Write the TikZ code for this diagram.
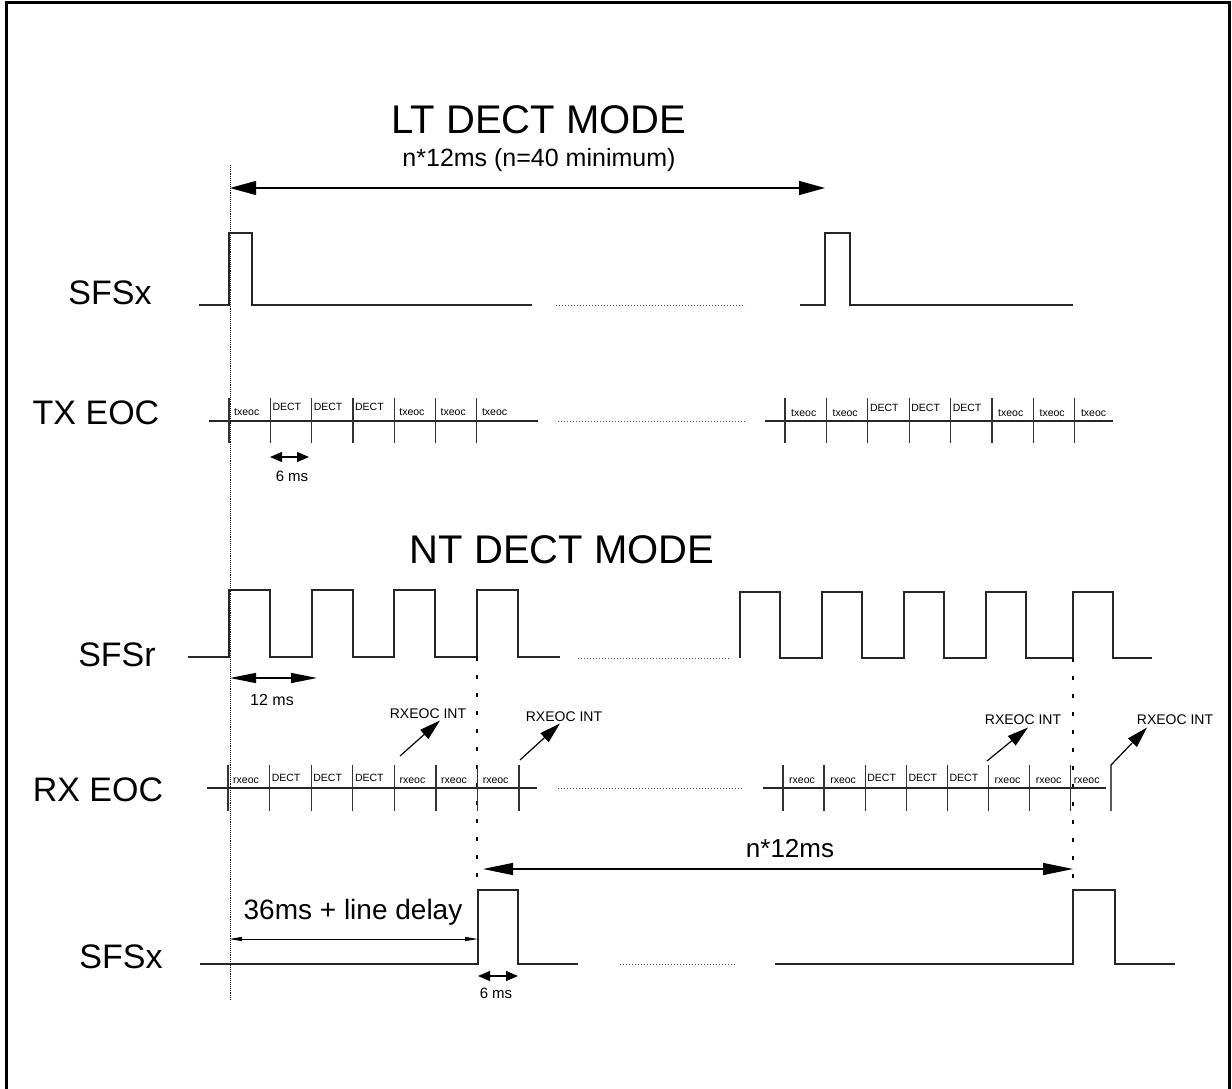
\documentclass[tikz,border=0pt]{standalone}
\usepackage{fontspec}
\setmainfont{Liberation Sans}
\usetikzlibrary{arrows.meta, positioning, calc}

\begin{document}
\begin{tikzpicture}[
  x=1pt, y=-1pt,
  wave/.style={line width=1.3pt, black!85},
  gap/.style={dotted, line width=1pt, black!70},
  tick/.style={line width=1.3pt, black!80},
  guide/.style={dash pattern=on 4pt off 14pt, line width=1.1pt},
  span/.style={line width=1.2pt, {Triangle[length=26pt,width=14pt]}-{Triangle[length=26pt,width=14pt]}},
  midspan/.style={line width=1.2pt, {Triangle[length=26pt,width=10pt]}-{Triangle[length=26pt,width=10pt]}},
  slotspan/.style={line width=1.2pt, {Triangle[length=12pt,width=10pt]}-{Triangle[length=12pt,width=10pt]}},
  thinspan/.style={line width=1pt, {Triangle[length=13pt,width=4pt]}-{Triangle[length=13pt,width=4pt]}},
  intarrow/.style={line width=1.2pt, -{Triangle[length=21pt,width=12pt]}},
  siglabel/.style={font=\fontsize{34}{40}\selectfont},
  title/.style={font=\fontsize{40}{48}\selectfont},
  cell/.style={font=\fontsize{10.5}{12}\selectfont, anchor=base west, inner sep=0pt},
  small/.style={font=\fontsize{15}{18}\selectfont},
]
  \useasboundingbox (0,0) rectangle (1232,1089);
  % frame
  \draw[line width=3pt] (6,1095) -- (6,3) -- (1229,3) -- (1229,1095);

  % titles
  \node[title] (ltmode) at (539,120) {LT DECT MODE};
  \node[font=\fontsize{25}{30}\selectfont] (ltspan) at (539,160) {n*12ms (n=40 minimum)};
  \node[title] (ntmode) at (562,550) {NT DECT MODE};

  % signal names
  \node[siglabel] (sfsxa) at (110,293) {SFSx};
  \node[siglabel] (txeoc) at (96,413) {TX EOC};
  \node[siglabel] (sfsr) at (117,655) {SFSr};
  \node[siglabel] (rxeoc) at (98,790) {RX EOC};
  \node[siglabel] (sfsxb) at (121,957) {SFSx};

  % reference line
  \draw[densely dotted, line width=0.9pt] (230,165) -- (230,1000);

  % LT frame period
  \coordinate (lt-l) at (230,188);
  \coordinate (lt-r) at (825,188);
  \draw[span] (lt-l) -- (lt-r);

  % SFSx (LT)
  \draw[wave] (199,305) -- (229,305) -- (229,233) -- (252,233) -- (252,305) -- (532,305);
  \draw[gap] (556,305) -- (745,305);
  \draw[wave] (800,305) -- (825,305) -- (825,233) -- (850,233) -- (850,305) -- (1073,305);

  % TX EOC slots
  \draw[wave] (209,421) -- (538,421);
  \foreach \i/\t/\dy/\dx in {0/txeoc/415/5, 1/DECT/410/2, 2/DECT/410/2, 3/DECT/410/2, 4/txeoc/415/5, 5/txeoc/415/5, 6/txeoc/415/5} {
    \draw[tick] ({229+41.3*\i},398) -- ({229+41.3*\i},443);
    \node[cell] (txa-\i) at ({229+41.3*\i+\dx},\dy) {\t};
  }
  \draw[gap] (558,421) -- (745,421);
  \draw[wave] (765,421) -- (1113,421);
  \foreach \i/\t/\dy/\dx in {0/txeoc/416/6, 1/txeoc/416/6, 2/DECT/411/2, 3/DECT/411/2, 4/DECT/411/2, 5/txeoc/416/6, 6/txeoc/416/6, 7/txeoc/416/6} {
    \draw[tick] ({785+41.4*\i},398) -- ({785+41.4*\i},443);
    \node[cell] (txb-\i) at ({785+41.4*\i+\dx},\dy) {\t};
  }
  \coordinate (slot-l) at (270,457);
  \coordinate (slot-r) at (309,457);
  \draw[slotspan] (slot-l) -- (slot-r);
  \node[small] (slotlbl) at (292,476) {6 ms};

  % SFSr (NT)
  \draw[wave] (188,657) \foreach \x in {229,312,394,477} { -- (\x,657) -- (\x,590) -- ({\x+41},590) -- ({\x+41},657) } -- (560,657);
  \draw[gap] (578,658) -- (731,658);
  \draw[wave] (740,658) \foreach \x in {740,822,904,986,1073} { -- (\x,658) -- (\x,592) -- ({\x+40},592) -- ({\x+40},658) } -- (1152,658);
  \coordinate (fr-l) at (230,678);
  \coordinate (fr-r) at (317,678);
  \draw[midspan] (fr-l) -- (fr-r);
  \node[font=\fontsize{16}{19}\selectfont] (frlbl) at (272,700) {12 ms};

  % guides
  \draw[guide] (477,657) -- (477,880);
  \draw[guide] (1073,658) -- (1073,880);

  % RX EOC slots
  \draw[wave] (207,788) -- (537,788);
  \foreach \i/\t/\dy/\dx in {0/rxeoc/783/5, 1/DECT/781/2, 2/DECT/781/2, 3/DECT/781/2, 4/rxeoc/783/5, 5/rxeoc/783/5, 6/rxeoc/783/5} {
    \draw[tick] ({228+41.6*\i},765) -- ({228+41.6*\i},811);
    \node[cell] (rxa-\i) at ({228+41.6*\i+\dx},\dy) {\t};
  }
  \draw[tick] (519,765) -- (519,811);
  \draw[gap] (558,788) -- (742,788);
  \draw[wave] (763,788) -- (1106,788);
  \foreach \i/\t/\dy/\dx in {0/rxeoc/783/6, 1/rxeoc/783/6, 2/DECT/781/2, 3/DECT/781/2, 4/DECT/781/2, 5/rxeoc/783/6, 6/rxeoc/783/6, 7/rxeoc/783/3} {
    \draw[tick] ({783+41.1*\i},765) -- ({783+41.1*\i},811);
    \node[cell] (rxb-\i) at ({783+41.1*\i+\dx},\dy) {\t};
  }

  % RXEOC INT events
  \node[small, font=\fontsize{14}{17}\selectfont] (int1) at (428,714) {RXEOC INT};
  \node[small, font=\fontsize{14}{17}\selectfont] (int2) at (564,717) {RXEOC INT};
  \node[small, font=\fontsize{14}{17}\selectfont] (int3) at (1023,720) {RXEOC INT};
  \node[small, font=\fontsize{14}{17}\selectfont] (int4) at (1175,720) {RXEOC INT};
  \coordinate (i1) at (400,756);
  \coordinate (i2) at (520,760);
  \coordinate (i3) at (987,761);
  \coordinate (i4) at (1111,765);
  \draw[intarrow] (i1) -- ($(int1.south)+(12,-2)$);
  \draw[intarrow] (i2) -- ($(int2.south)+(-4,-2)$);
  \draw[intarrow] (i3) -- ($(int3.south)+(5,-1)$);
  \draw[intarrow] (1111,811) -- (i4) -- ($(int4.south)+(-28,-1)$);

  % NT frame period
  \coordinate (nt-l) at (483,869);
  \coordinate (nt-r) at (1073,869);
  \draw[line width=1.2pt, {Triangle[length=30pt,width=12pt]}-{Triangle[length=30pt,width=12pt]}] (nt-l) -- (nt-r);
  \node[font=\fontsize{26}{31}\selectfont] (ntspan) at (790,849) {n*12ms};

  % SFSx (NT)
  \draw[wave] (200,964) -- (478,964) -- (478,890) -- (518,890) -- (518,964) -- (578,964);
  \draw[gap] (620,964) -- (735,964);
  \draw[wave] (775,964) -- (1073,964) -- (1073,890) -- (1115,890) -- (1115,964) -- (1175,964);
  \coordinate (dl-l) at (229,939);
  \coordinate (dl-r) at (478,939);
  \draw[thinspan] (dl-l) -- (dl-r);
  \node[font=\fontsize{28}{33}\selectfont] (dllbl) at (353,912) {36ms + line delay};
  \coordinate (pw-l) at (478,976);
  \coordinate (pw-r) at (518,976);
  \draw[slotspan] (pw-l) -- (pw-r);
  \node[small] (pwlbl) at (496,993) {6 ms};
\end{tikzpicture}
\end{document}
